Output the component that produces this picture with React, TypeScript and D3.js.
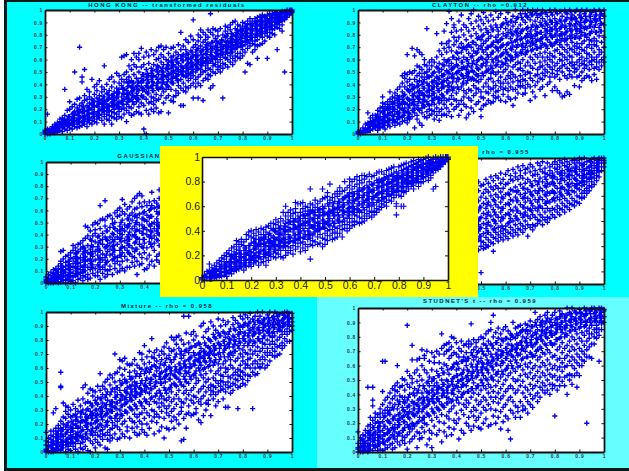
import React, { useEffect, useRef } from 'react';
import * as d3 from 'd3';

// every row is [x, y, y, y...] in hundredths (thinned out)
const hongKong = [
  [0,0,1,2,1,3],[1,0,2,4,1,16],[2,1,3,0,4,2],[3,2,4,1,6,3],[4,3,1,6,8,5],[5,2,5,9,4,7],[6,3,8,12,5,10],[7,5,2,9,13,7],
  [8,4,11,7,36,15,9],[9,6,12,3,10,19,8],[10,5,14,8,20,11,26],[11,7,16,4,12,22,9],[12,13,6,18,50,10,24,15],[13,8,21,11,5,16,28],
  [14,10,70,18,6,23,13,29],[15,46,42,9,20,14,25,17,7],[16,52,12,27,8,19,15,31],[17,10,23,14,6,28,18,36],[18,13,30,9,21,16,25,34],[19,44,11,24,17,8,28,20],
  [20,14,32,22,10,26,18,38],[21,40,12,29,16,23,9,35],[22,43,19,13,31,25,15,28],[23,11,27,20,34,16,38,24],[24,55,18,8,30,22,14,36,26],[25,21,33,12,27,16,40,24],
  [26,15,29,22,35,19,44,11],[27,8,25,38,18,31,14,46,23],[28,20,34,13,27,42,17,30,24],[29,23,37,16,49,29,12,33],[30,26,18,41,14,33,47,22,36],[31,20,30,39,13,44,25,62],
  [32,28,16,36,48,21,32,42,63],[33,10,24,35,19,44,30,50,64],[34,27,17,39,32,46,22,55,42],[35,21,34,15,43,28,52,38,60],[36,30,16,24,41,48,36,65,56],[37,26,38,18,45,33,54,29,62],
  [38,22,35,42,17,50,28,60,65],[39,16,31,45,25,38,54,69,41],[40,4,23,36,48,30,56,43,62],[41,0,28,39,19,52,34,46,66],[42,25,42,33,16,57,47,63,37],[43,30,20,49,38,53,26,68,44],
  [44,35,24,47,56,41,18,64,29],[45,21,39,52,32,60,46,67,27],[46,28,42,17,54,36,48,61,70],[47,18,31,45,38,58,51,64,71],[48,34,25,50,42,62,56,47,68],[49,29,40,53,36,46,60,70],
  [50,31,17,44,55,38,49,65,59],[51,27,36,48,42,58,53,69,62],[52,30,41,26,51,46,63,56,70],[53,35,45,31,54,49,60,66],[54,39,33,48,43,57,52,64,72],[55,23,82,37,50,44,61,55,68],
  [56,23,41,35,53,47,59,64,71],[57,38,46,34,55,50,62,68,76],[58,43,37,52,57,48,64,60,74],[59,39,45,54,49,61,67,58,79],[60,92,29,47,41,56,52,63,70,76],[61,38,44,55,50,60,66,72,64],
  [62,29,46,41,53,58,63,69,75,80],[63,39,48,52,60,56,66,71,78,84],[64,27,43,50,57,62,68,74,61,82],[65,45,55,51,59,65,70,76,80],[66,44,53,48,61,57,68,73,84,78],[67,37,52,47,59,64,71,66,82,97],
  [68,39,50,57,62,55,69,74,80,85],[69,49,56,61,66,71,60,77,84],[70,52,58,54,64,68,73,79,83],[71,55,50,62,67,60,74,70,85],[72,29,57,53,64,69,75,80,66],[73,56,61,66,71,78,62,83,87],
  [74,54,60,65,70,75,68,81,86],[75,58,63,68,73,77,71,84,88],[76,61,66,56,72,76,80,69,90],[77,63,68,59,74,79,71,85,91],[78,62,70,65,76,81,73,84,88],[79,65,71,61,78,74,83,87],
  [80,63,68,74,79,71,83,87,90],[81,50,66,72,77,81,75,85,89],[82,57,69,74,79,84,76,88,91],[83,56,71,76,81,73,85,89,93],[84,66,73,78,83,75,87,91],[85,68,75,80,78,85,89,93,72],
  [86,61,79,71,76,83,87,91,94],[87,72,79,84,81,88,92,95],[88,78,73,83,86,81,90,94,96],[89,75,81,85,88,83,91,95],[90,61,79,84,87,82,92,90,96],[91,78,86,82,89,93,97,91],
  [92,81,85,88,91,94,97,84],[93,80,87,90,85,93,96,98],[94,68,86,89,92,95,98,91],[95,85,90,93,96,88,98],[96,83,91,94,97,99,88],[97,50,92,95,98,93,99],[98,94,96,99,97,100],[99,96,98,100,99,97],[100,98,99,100,100]
];
const hongKongCore = [
  [1.5,2,1,3],[3.5,4,2,5],[5.5,6,3,8],[7.5,8,6,11],[9.5,7,11,9,14],[11.5,13,10,8,17],[13.5,12,15,9,19],[15.5,11,18,13,22],[17.5,16,21,12,19],[19.5,17,23,14,27],
  [21.5,22,18,26,15],[23.5,19,25,30,21],[25.5,28,23,19,32],[27.5,26,22,31,28],[29.5,25,34,30,21],[31.5,33,27,37,24],[33.5,29,38,33,26,41],[35.5,31,37,26,41,35],[37.5,36,42,31,39,28],[39.5,35,43,37,30,48],
  [41.5,44,38,33,49,41],[43.5,39,46,42,35,51],[45.5,44,37,50,41,55],[47.5,41,48,53,44,37],[49.5,47,42,52,56,39],[51.5,45,50,55,41,59],[53.5,47,52,58,43,61],[55.5,48,54,59,51,63],[57.5,53,47,60,56,65],[59.5,55,50,62,58,66],
  [61.5,57,53,63,59,68],[63.5,58,64,55,67,61],[65.5,62,58,68,64,72],[67.5,63,69,60,66,74],[69.5,65,70,63,75,68],[71.5,68,65,72,76,70],[73.5,69,74,66,72,79],[75.5,74,70,77,66,81],[77.5,75,72,79,82,70],[79.5,77,80,74,84,71],
  [81.5,78,82,86,75],[83.5,81,84,78,88],[85.5,83,87,80,90],[87.5,85,89,82,92],[89.5,87,90,93,85],[91.5,90,93,88,95],[93.5,92,94,97,90],[95.5,94,97,92],[97.5,96,98,95],[99.5,98,100,99]
];
const clayton = [
  [0,0,1,2],[1,0,1,2,3],[2,1,3,5,2],[3,2,5,4,8,1],[4,17,3,7,9,5],[5,3,6,10,8,13],[6,4,9,13,7,11,15],[7,5,11,15,8,13,6],[8,7,3,12,16,10,14,19],[9,5,14,18,9,11,21],
  [10,8,30,12,17,22,6,25],[11,4,14,20,10,24,16,9],[12,11,19,7,26,15,22,13],[13,6,17,28,12,24,20,34],[14,9,22,15,30,18,12,26],[15,10,25,7,33,20,16,29],[16,12,27,18,36,23,9,31,14],[17,8,21,30,13,38,25,17],
  [18,14,47,28,10,34,20,41,24],[19,11,45,17,32,25,49,38,21],[20,13,64,29,18,36,42,9,24,48],[21,16,27,50,34,12,44,39,23],[22,69,19,31,40,14,49,25,36],[23,5,26,63,17,44,33,38,51,21],
  [24,15,68,30,47,23,38,55,12,42],[25,9,66,28,35,49,19,43,54,31],[26,7,64,25,40,17,52,33,46,21],[27,27,37,14,56,44,22,49,31,60],[28,85,18,34,50,26,41,13,55,46],[29,23,39,15,52,31,46,58,35,20],
  [30,16,27,47,36,55,19,42,60,31,24],[31,12,33,50,24,43,58,38,29,18],[32,81,21,38,54,30,46,62,15,41],[33,11,25,44,35,57,18,67,50,29],[34,73,20,41,52,32,64,47,27,37,15],[35,83,16,29,48,38,60,24,55,69,43],
  [36,89,15,34,51,43,66,27,58,73,21],[37,99,28,41,60,36,49,70,18,55,75],[38,14,93,46,31,57,24,67,52,82,38],[39,86,20,37,62,45,72,54,28,78,88],[40,22,42,66,33,56,75,49,27,83,60],[41,15,36,51,70,44,61,24,78,91],
  [42,27,58,38,73,48,66,19,84,53,96],[43,30,45,62,80,35,70,54,24,88,41],[44,13,41,68,52,76,33,60,86,22,47],[45,16,36,57,72,46,83,29,65,93,50],[46,21,44,62,79,35,54,89,70,27,97],[47,18,39,59,74,50,85,31,67,44,100],
  [48,24,48,65,37,81,56,72,91,33,43],[49,26,42,60,78,52,87,36,69,95,47],[50,14,20,34,55,71,44,84,62,30,76,92],[51,23,47,66,38,80,57,89,29,73,98],[52,24,41,60,75,50,85,34,68,94,55],[53,33,52,70,27,62,82,44,91,38,77],
  [54,25,45,64,36,79,55,87,71,96,49],[55,31,58,42,74,26,66,84,50,92,37],[56,29,39,61,48,78,70,88,34,55,99],[57,35,50,67,43,83,59,74,94,30,80],[58,27,46,63,38,76,54,86,70,97,41],[59,32,56,41,72,65,89,50,81,36],
  [60,26,44,61,52,79,37,68,85,93,57],[61,35,55,47,73,64,88,41,82,98,30],[62,28,50,38,69,59,77,91,45,84,63],[63,23,42,60,54,80,71,95,36,87,48],[64,29,46,36,66,56,75,90,62,83,100],[65,33,52,43,72,63,85,39,79,94,58],
  [66,38,57,47,76,66,88,53,81,97,42],[67,32,44,60,51,73,84,92,68,100,39],[68,33,48,37,64,55,78,90,70,97,43],[69,40,58,50,75,67,86,94,81,100],[70,27,45,38,62,55,71,83,92,78,98,49],[71,34,53,43,68,60,77,88,96,73,100],
  [72,30,47,57,39,72,64,84,91,79,99],[73,42,52,62,48,76,69,86,94,81,100],[74,36,45,58,54,70,65,82,90,96,75],[75,44,38,55,49,73,62,87,78,93,100],[76,31,47,59,52,66,80,72,91,85,98],[77,40,50,62,56,76,69,88,83,95],
  [78,46,54,42,65,60,81,74,92,86,100],[79,35,49,58,52,71,63,84,78,96,90],[80,38,46,55,62,73,67,87,80,93,100],[81,35,48,57,51,68,76,89,83,97],[82,33,44,53,60,72,65,85,79,92,99],[83,30,50,59,55,70,64,81,88,95,77],
  [84,31,47,56,62,75,68,86,91,80,100],[85,34,45,53,60,72,66,83,94,77,97],[86,32,48,57,51,69,63,79,89,85,100],[87,46,55,62,58,74,68,84,92,80,96],[88,39,50,56,53,66,78,71,87,94,99],[89,46,58,52,64,73,69,85,91,81,100],
  [90,38,47,55,60,70,77,65,88,83,96],[91,43,50,57,62,73,68,82,93,87,100],[92,45,53,59,56,67,75,90,80,97,85],[93,47,55,61,70,65,85,78,92,100],[94,46,52,58,64,72,81,87,95,76],[95,43,56,62,59,69,83,75,90,98],
  [96,53,48,60,66,77,72,86,93,100],[97,44,54,62,58,71,82,91,96,75],[98,52,58,64,68,79,86,93,100],[99,55,60,66,74,83,89,97],[100,58,62,70,78,88,95,100]
];
const claytonCore = [
  [4.5,4,7,3],[6.5,6,10,8],[8.5,9,13,6,11],[10.5,10,14,19,7],[12.5,16,11,21,9],[14.5,14,20,25,11],[16.5,17,23,13,28],[18.5,19,26,15,31],[20.5,21,28,17,35,13],[22.5,24,31,19,37,28],
  [24.5,26,34,20,39,29],[26.5,28,37,23,42,32],[28.5,30,39,24,46,35],[30.5,33,42,27,49,38],[32.5,35,45,28,53,40],[34.5,38,47,31,56,42],[36.5,39,50,34,59,45],[38.5,42,53,35,62,48],[40.5,45,55,38,65,50],[42.5,47,58,41,69,53],
  [44.5,49,60,43,71,55],[46.5,51,63,45,74,57],[48.5,53,66,47,77,59],[50.5,55,68,49,79,61],[52.5,58,70,51,82,64],[54.5,60,72,53,84,66],[56.5,62,75,56,86,69],[58.5,64,77,58,88,71],[60.5,66,79,60,90,72],[62.5,68,81,62,91,74],
  [64.5,70,82,64,93,76],[66.5,71,83,65,94,77],[68.5,73,85,66,95,79],[70.5,74,86,67,96,80],[72.5,75,87,69,97,81],[74.5,77,88,70,97,82],[76.5,78,89,71,98,83],[78.5,79,90,72,98,84],[80.5,80,90,74,99,85],[82.5,81,91,75,99,86],
  [84.5,82,92,76,98,87],[86.5,83,93,77,99,88],[88.5,84,93,78,99,89],[90.5,85,94,79,99,90],[92.5,86,95,80,99,91],[94.5,87,95,81,99,91],[96.5,88,96,82,99,92],[98.5,89,96,83,99,93]
];
const gaussian = [
  [0,0,2,3,1,5],[1,0,1,4,2,7],[2,1,3,6,0,9,4],[3,0,2,5,8,3,11],[4,2,6,10,1,4,12,8],[5,3,7,0,11,14,5,9],[6,1,4,9,16,12,6,26,18],[7,2,8,5,13,20,10,27],[8,0,6,11,3,17,14,22,9],[9,4,12,7,18,2,23,15],
  [10,1,9,14,6,21,11,25,3],[11,5,16,8,27,13,20,2,31],[12,0,10,18,6,24,14,29,22],[13,3,12,7,20,16,32,26,9],[14,4,21,11,28,17,33,8,14],[15,2,9,24,13,19,35,30,6],[16,5,15,47,22,10,27,37,18],[17,7,13,46,25,19,31,39,3],
  [18,4,20,11,28,16,36,43,24],[19,8,15,30,22,39,48,12,26],[20,6,19,34,12,26,44,41,50],[21,9,23,15,30,38,49,6,28],[22,64,3,17,27,11,35,45,21,52],[23,13,8,32,24,41,53,19,36],[24,68,5,21,29,15,47,38,11,52],[25,10,26,18,35,43,55,31,7],
  [26,14,33,23,46,38,56,11,28],[27,7,19,41,30,53,36,49,24],[28,16,12,36,27,58,45,22,50],[29,21,9,32,43,55,18,38,60],[30,15,27,10,47,36,56,23,62,41],[31,69,18,30,40,12,52,25,59,45],[32,10,35,22,48,29,57,43,65],[33,19,27,38,13,53,46,61,33],
  [34,13,24,42,31,56,49,63,36],[35,17,29,39,22,52,45,67,58],[36,21,33,14,47,40,61,26,55,70],[37,7,28,37,18,50,44,72,62,54],[38,74,15,32,24,43,57,66,36,48],[39,16,30,21,41,53,63,48,72],[40,11,36,25,46,59,67,33,52],[41,12,20,29,40,51,64,56,44],
  [42,15,34,23,48,38,60,67,54],[43,75,18,30,42,55,37,64,49],[44,14,27,39,50,33,62,45,68],[45,22,36,19,53,43,59,66,48],[46,77,17,31,40,58,47,63,70,24]
];
const gaussianCore = [
  [3.5,4,7,2],[6.5,7,11,3,14],[9.5,9,14,5,18],[12.5,12,17,7,21,25],[15.5,15,21,10,26,29],[18.5,18,24,13,31,35],[21.5,20,27,14,33,39],[24.5,23,30,17,36,43],[27.5,27,34,20,40,46,31],[30.5,29,37,22,44,50,34],
  [33.5,31,40,25,47,53,36],[36.5,34,43,28,50,56,38],[39.5,36,45,29,53,58,41],[42.5,39,47,32,55,61,43],[45.5,41,50,35,57,63,45]
];
const fourth = [
  [49,27,35,42,50,58,66,74,81,47],[50,30,38,45,53,61,69,78,34,9],[51,28,33,40,48,56,64,72,79],[52,31,37,44,52,60,68,75,83,29],[53,35,30,41,49,57,65,73,80],[54,33,39,46,54,62,70,77,85],
  [55,32,37,43,51,59,67,75,82,26],[56,36,41,48,55,63,71,78,86],[57,34,39,45,53,61,69,76,84],[58,37,42,50,57,65,73,80,88],[59,35,44,40,52,60,68,76,83],[60,38,46,43,55,63,71,79,87],
  [61,36,41,48,56,64,72,80,90],[62,40,45,52,59,67,75,83,86],[63,38,43,50,58,66,74,82,91],[64,41,47,54,61,69,77,85,88],[65,39,44,51,58,66,74,83,93],[66,43,48,56,63,71,79,86,90],
  [67,41,46,53,61,68,76,84,94],[68,44,50,57,65,72,80,88,91],[69,38,47,54,60,68,75,83,92],[70,45,52,59,66,73,81,89,95],[71,47,43,55,62,70,78,86,93],[72,46,53,60,67,74,82,90,87],
  [73,48,51,58,65,72,79,87,96],[74,50,55,62,69,76,84,91,94],[75,47,53,60,67,74,81,89,97],[76,51,57,64,71,78,85,92,88],[77,53,49,60,66,73,80,87,96],[78,52,58,65,72,79,86,93,90],
  [79,55,60,67,74,81,88,95,84],[80,53,59,66,72,78,85,92,97],[81,57,62,69,76,83,89,95,91],[82,55,60,67,73,80,87,93,98],[83,59,64,70,77,84,90,96,86],[84,57,62,68,75,82,88,94,99],
  [85,61,66,72,79,85,91,97,93],[86,59,64,71,77,83,89,95,87],[87,63,68,74,80,86,92,98,90],[88,62,66,73,78,84,90,96,99],[89,65,70,76,82,87,93,98,79],[90,64,69,75,80,86,91,96,100],
  [91,68,72,78,84,89,94,99,81],[92,69,74,79,85,90,95,100,87],[93,72,76,81,87,92,97,84],[94,74,78,83,88,93,98,90],[95,77,81,85,90,94,99,87],[96,79,84,88,92,96,100],
  [97,82,86,90,94,98,92],[98,85,89,93,96,100],[99,90,93,96,98,100],[100,93,96,98,100]
];
const fourthCore = [
  [49.5,44,52,38,61],[52.5,47,55,41,63],[55.5,50,57,44,66],[58.5,53,60,46,69],[61.5,55,63,49,71],[64.5,58,66,52,73],[67.5,61,69,55,76],[70.5,64,71,58,78],[73.5,67,74,61,81],[76.5,70,77,64,83],
  [79.5,73,80,68,85],[82.5,76,83,71,88],[85.5,79,86,74,91],[88.5,83,89,78,93],[91.5,86,91,82,95],[94.5,89,94,85,97],[97.5,93,96,90,99]
];
const mixture = [
  [0,0,2,5,8,1,14],[1,0,3,7,10,4,1],[2,1,5,9,12,3,15,0],[3,0,6,11,28,15,2,8],[4,3,8,13,31,5,17,1],[5,2,7,11,15,19,4,9],[6,47,46,57,1,9,13,22,5,17],[7,3,11,16,20,7,35,25],
  [8,0,8,13,18,24,33,5,29],[9,4,10,16,21,7,27,32,2],[10,1,12,18,25,6,14,30,9],[11,7,15,20,4,26,34,11,17],[12,2,10,19,27,13,23,31,6],[13,0,14,8,22,17,29,37,11],[14,3,12,25,18,33,6,28,21],[15,7,16,22,30,11,38,46,2],
  [16,4,19,13,27,35,48,23,9],[17,10,1,24,31,16,42,20,36],[18,0,13,29,20,35,8,45,26],[19,6,17,24,33,12,40,28,44],[20,3,21,14,30,37,9,43,26],[21,7,18,27,34,47,23,12,39],[22,56,11,20,31,38,15,44,27,5],[23,9,23,16,35,29,41,47,13],
  [24,3,18,26,33,12,39,50,45],[25,2,14,28,22,37,43,52,19,9],[26,16,8,25,34,30,48,41,55,12],[27,10,21,36,29,45,17,53,33],[28,70,13,24,39,32,50,19,56,43],[29,9,27,18,35,46,41,57,22],[30,16,10,30,24,37,51,44,60,66],[31,13,26,20,40,33,49,55,65],
  [32,11,22,34,29,44,38,59,52,67],[33,15,28,18,42,36,50,63,46],[34,10,24,32,47,39,57,62,54],[35,17,30,22,43,37,53,63,48],[36,21,14,34,27,45,40,58,50,66],[37,18,12,31,25,49,42,56,62],[38,13,27,36,22,46,54,41,60,71],[39,20,16,33,43,28,51,59,66,70],
  [40,14,24,38,31,48,44,56,63,76],[41,12,28,20,36,53,46,60,68],[42,26,17,34,42,57,49,64,72],[43,81,22,30,39,52,45,61,68],[44,13,29,36,25,47,55,62,71,67],[45,21,35,27,42,50,58,65,73],[46,25,15,32,44,38,54,60,69],[47,18,29,40,35,49,57,66,72],
  [48,10,24,38,33,46,53,62,70,75],[49,31,17,28,42,37,55,59,67,78],[50,16,33,26,45,39,52,61,69,74],[51,22,36,29,48,43,58,64,72,82],[52,17,31,38,25,49,55,66,73,80],[53,23,34,41,47,59,53,70,77,82],[54,20,27,38,44,52,63,57,74,83],[55,8,32,36,29,48,60,67,80,72],
  [56,97,9,24,35,42,54,47,69,63,77],[57,17,27,38,50,44,61,56,73,85],[58,97,28,33,41,49,57,66,78,71],[59,26,37,44,52,61,68,75,84],[60,27,35,46,40,55,63,71,80,86],[61,28,39,31,49,58,53,66,76,83],[62,23,36,43,51,60,70,65,78],[63,21,34,45,38,55,62,74,68,90],
  [64,26,40,47,53,59,67,72,82,92],[65,35,30,43,50,56,64,76,70,86],[66,34,37,46,52,61,69,75,81,88],[67,26,41,48,44,58,65,72,79,93],[68,38,43,53,47,62,70,76,84,90],[69,33,46,41,56,51,66,74,81,87],[70,43,36,49,58,63,70,78,85,95],[71,44,51,47,60,55,68,76,83,90],
  [72,38,45,54,50,63,71,79,86,94],[73,32,48,43,57,65,60,74,82,91],[74,32,50,46,59,54,68,77,84,93],[75,47,53,42,62,71,66,80,88],[76,44,55,49,60,69,75,83,91,96],[77,48,57,52,65,72,79,87,94],[78,31,51,46,59,55,67,76,84,92],[79,47,54,62,58,70,78,86,90,97],
  [80,49,57,52,65,73,68,81,89,95],[81,48,60,55,63,71,79,85,92,98],[82,55,51,62,70,66,76,83,90,96],[83,54,60,67,73,80,87,93,99],[84,31,57,63,70,76,83,89,95],[85,55,60,65,72,78,85,91,97],[86,56,63,69,75,81,88,94,100],[87,60,66,61,72,79,85,92,97],
  [88,63,68,74,81,87,93,100,78],[89,60,66,71,77,83,90,95],[90,62,69,74,80,86,92,98,71],[91,65,71,77,83,88,94,100],[92,69,74,79,85,91,96,82],[93,68,72,77,83,89,95,100],[94,69,75,80,86,92,97,99],[95,70,76,82,87,93,98,90],
  [96,74,78,84,89,94,99,86],[97,76,81,86,91,96,100],[98,79,84,88,93,97,100,91],[99,79,86,90,95,99,93],[100,87,90,93,96,99,96]
];
const mixtureCore = [
  [2.5,3,7,1],[4.5,6,10,2,13],[6.5,7,12,3,16],[8.5,9,14,5,19],[10.5,11,17,7,22],[12.5,13,19,9,25],[14.5,15,22,10,28],[16.5,18,25,13,30,21],[18.5,20,27,15,33,24],[20.5,22,30,17,35,26],
  [22.5,25,32,19,38,29],[24.5,27,34,21,41,31],[26.5,29,36,24,43,33],[28.5,31,39,26,46,35],[30.5,33,41,27,48,37],[32.5,35,43,29,50,39],[34.5,37,45,31,52,41],[36.5,39,47,33,54,43],[38.5,41,49,35,56,45],[40.5,43,51,36,58,47],
  [42.5,45,52,38,59,49],[44.5,47,54,40,61,50],[46.5,49,56,42,63,52],[48.5,50,58,44,64,54],[50.5,52,60,46,66,56],[52.5,54,61,48,68,58],[54.5,56,63,50,70,59],[56.5,58,65,52,72,61],[58.5,60,67,54,74,63],[60.5,62,69,56,76,65],
  [62.5,64,71,58,77,67],[64.5,65,72,60,78,69],[66.5,67,74,62,80,71],[68.5,69,76,64,82,73],[70.5,71,77,66,83,74],[72.5,73,79,68,85,76],[74.5,75,81,70,86,78],[76.5,77,82,72,88,80],[78.5,79,84,74,89,81],[80.5,81,85,76,91,83],
  [82.5,83,87,78,92,85],[84.5,84,88,79,93,86],[86.5,85,89,81,94,87],[88.5,87,91,83,95,89],[90.5,88,92,85,96,90],[92.5,89,93,86,97,91],[94.5,91,94,88,98],[96.5,92,95,90,98],[98.5,93,96,91,99]
];
const student = [
  [0,0,3,2,6,14],[1,0,4,2,8,10,1],[2,1,5,0,9,12,3,6],[3,2,6,11,1,4,15],[4,0,8,13,3,45,18,6],[5,2,9,15,5,12,24,19],[6,1,7,45,36,11,17,22,32],[7,3,10,5,14,20,27,24],[8,4,12,8,17,21,26,1],[9,2,14,6,18,24,11,30,27],
  [10,63,42,7,1,15,21,9,27,33],[11,63,5,12,18,25,2,29,36],[12,8,3,16,22,13,31,38,27],[13,10,20,5,26,15,34,29,41],[14,6,17,2,23,12,31,37,44],[15,9,14,25,19,33,3,39,46,43],[16,60,11,22,30,7,17,42,36,48],[17,5,19,13,27,35,23,45,39],
  [18,8,15,31,24,38,11,46,51],[19,10,21,17,34,28,43,6,50,38],[20,88,12,26,2,19,36,31,47,56],[21,14,23,7,32,40,18,53,28,45],[22,74,16,9,27,35,20,48,64,51],[23,11,30,18,39,25,44,55,34],[24,64,3,20,14,33,27,49,41,57],[25,13,24,9,37,30,46,53,65],
  [26,17,10,28,41,34,50,60,22,71],[27,20,14,36,24,44,57,31,65,67],[28,5,19,32,38,48,27,55,70,42],[29,15,25,9,35,46,41,52,63],[30,3,22,13,30,43,37,57,49,69],[31,18,27,40,34,51,46,62,66],[32,24,12,37,31,48,43,56,70],[33,15,29,35,45,21,53,62,68],
  [34,82,7,26,39,33,50,44,58,72],[35,20,14,31,41,47,55,68,61,74],[36,11,25,34,43,50,60,38,75,70],[37,17,28,23,46,37,54,65,71,76],[38,12,30,41,35,49,58,67,80,73],[39,22,32,16,44,52,40,61,69,79],[40,20,27,36,46,53,62,57,76,68],[41,9,23,34,42,49,58,66,72],
  [42,15,29,38,45,54,50,63,70,77],[43,13,26,33,41,57,47,66,74,64],[44,20,31,36,46,52,60,69,63,75],[45,18,24,34,42,50,56,65,73,77],[46,89,15,28,38,44,53,61,69,75],[47,18,31,25,41,48,56,64,71,78],[48,22,29,36,44,52,59,66,76,73],[49,24,17,33,46,40,55,63,70,78],
  [50,16,27,35,43,50,57,65,72,80],[51,20,31,38,46,53,61,68,75,79],[52,23,29,36,44,51,58,67,74,82],[53,18,33,41,47,55,62,70,77,84],[54,90,19,30,38,45,52,60,68,75,85],[55,95,25,35,42,50,57,64,72,80],[56,20,29,38,46,54,61,68,76,83],[57,24,34,41,49,56,65,71,79,86],
  [58,16,28,37,44,52,60,67,74,82],[59,21,31,39,47,54,62,69,77,85],[60,25,33,42,50,57,65,72,79,87],[61,15,23,36,44,53,60,68,75,84],[62,9,29,38,46,55,63,70,78,82],[63,27,35,44,51,58,66,73,80,90],[64,24,32,41,49,56,64,71,79,86],[65,31,28,43,50,59,67,74,81,87],
  [66,24,35,46,53,60,68,76,83,88],[67,32,29,41,49,57,65,72,80,85],[68,30,38,45,54,61,70,77,84,89],[69,27,35,43,52,59,66,74,82,88],[70,33,40,47,55,62,69,76,84,91],[71,37,31,44,51,58,66,73,81,87],[72,39,46,53,60,67,75,83,90,97],[73,41,35,49,56,64,71,78,85,92],
  [74,38,45,52,59,66,73,80,88,94],[75,43,48,55,62,69,77,84,91,87],[76,41,46,53,60,68,75,82,89,95],[77,43,50,57,64,71,79,86,93,97],[78,40,47,54,61,69,76,83,90],[79,47,44,52,58,66,74,81,88,95],[80,25,46,53,60,67,75,82,90,97],[81,43,50,57,64,71,78,85,92,89],
  [82,46,52,59,65,73,79,87,94,98],[83,49,56,62,69,76,83,90,96],[84,46,52,59,65,72,80,86,93],[85,40,53,60,67,74,81,88,95,100],[86,50,54,63,70,77,84,91,97],[87,53,47,60,66,73,80,87,94,100],[88,53,58,64,71,78,85,92,98],[89,45,55,62,68,75,82,89,96],
  [90,53,60,66,72,79,86,93,99],[91,60,64,70,77,83,90,96],[92,63,68,74,81,87,94,100],[93,20,66,71,77,84,90,96,99],[94,66,73,79,86,92,98,82],[95,65,75,82,88,93,99,100],[96,75,80,85,91,96,100],[97,79,83,88,93,98,86],
  [98,63,81,85,90,95,100],[99,85,89,93,97,100,91],[100,90,94,98,99]
];
const studentCore = [
  [2.5,4,7,1],[4.5,5,10,2,14],[6.5,8,13,4,17],[8.5,10,15,6,20],[10.5,12,18,7,24],[12.5,14,21,9,27],[14.5,16,23,11,30],[16.5,19,26,13,33,22],[18.5,21,29,15,35,25],[20.5,24,32,17,38,27],
  [22.5,26,34,19,41,30],[24.5,28,36,21,43,32],[26.5,30,38,24,46,34],[28.5,33,41,26,49,36],[30.5,35,43,28,51,39],[32.5,37,45,30,53,41],[34.5,39,47,32,55,43],[36.5,41,49,34,57,45],[38.5,43,51,36,59,47],[40.5,45,53,38,61,49],
  [42.5,47,55,40,63,51],[44.5,49,57,42,65,53],[46.5,51,59,44,67,55],[48.5,53,61,46,69,57],[50.5,55,62,48,70,59],[52.5,57,64,50,72,61],[54.5,59,66,52,74,63],[56.5,61,68,54,76,65],[58.5,63,70,56,78,67],[60.5,65,72,58,79,69],
  [62.5,67,74,60,81,71],[64.5,69,75,62,82,72],[66.5,71,77,64,84,74],[68.5,73,79,66,85,76],[70.5,74,80,68,87,78],[72.5,76,82,70,88,79],[74.5,78,84,72,90,81],[76.5,80,85,74,91,83],[78.5,81,87,76,92,84],[80.5,83,88,78,93,86],
  [82.5,85,90,80,94,87],[84.5,86,91,82,95,88],[86.5,88,92,84,96,90],[88.5,89,93,85,97,91],[90.5,90,94,87,97,92],[92.5,91,95,88,98],[94.5,93,96,90,98],[96.5,94,97,91,99],[98.5,95,98,93,99]
];
const inset = [
  [0,0,1,2,1],[1,0,1,3,2,4],[2,1,3,5,2,7],[3,2,5,1,8,13,6],[4,1,4,7,10,3,6],[5,3,6,9,5,12,2],[6,2,8,11,4,14,7],[7,5,9,3,13,16,7],[8,3,10,6,15,12,18],[9,6,12,4,17,9,20],
  [10,5,14,8,19,11,22,3],[11,8,15,6,21,12,24],[12,9,17,5,20,13,26],[13,7,14,23,10,18,27],[14,11,19,8,25,15,29,32],[15,9,16,22,12,27,31],[16,10,21,14,18,29,33],[17,13,8,24,19,31,28],[18,11,17,26,22,33,37,14],[19,14,20,12,28,36,24,39],
  [20,11,16,23,30,19,35,40],[21,13,25,18,31,38,22,34],[22,15,28,20,36,25,33,41],[23,18,12,27,33,22,39,30],[24,17,23,32,14,37,27,42],[25,19,29,15,34,24,41,37],[26,12,22,35,28,39,18,43],[27,16,31,25,37,20,44,33],[28,21,30,19,36,42,26,46],[29,19,28,35,23,41,46,31],
  [30,18,25,33,39,29,45,22,49],[31,21,35,28,42,47,24,38],[32,24,31,38,19,44,50,27],[33,18,26,36,41,30,48,55,34],[34,20,28,40,33,46,60,24,52],[35,22,30,37,43,49,27,55],[36,24,34,41,47,26,52,57],[37,21,31,39,45,28,54,50],[38,25,36,43,63,30,49,58,55],[39,27,33,41,47,52,62,37],
  [40,23,30,38,45,50,55,62,35],[41,26,34,42,48,53,58,31,63],[42,24,37,44,29,50,56,60],[43,27,33,40,47,53,59,36],[44,17,74,29,38,45,51,57,62,34],[45,28,36,43,49,56,61,32],[46,31,39,47,53,59,42,65],[47,29,35,44,50,57,62,40],[48,30,37,46,52,58,64,42],[49,27,74,34,43,49,55,60,66],
  [50,29,38,46,54,60,33,42,67],[51,32,40,47,53,62,68,36,71],[52,36,78,44,50,56,63,41,65],[53,33,41,48,54,60,67,38],[54,34,39,46,52,58,64,70,43],[55,35,42,49,55,62,68,72,38],[56,38,44,51,57,63,70,48,75],[57,41,35,47,53,60,66,72],[58,42,48,55,61,67,73,45,80],[59,45,50,56,63,69,75,40],
  [60,42,47,53,59,65,71,77,50,82],[61,44,50,56,62,68,74,80,47],[62,48,53,58,64,70,76,45,82],[63,47,52,60,66,72,78,55,84],[64,46,51,56,62,69,75,81],[65,50,55,61,67,73,79,47,85],[66,52,57,63,69,75,82,48,85],[67,54,59,65,71,77,50,84],[68,52,56,62,68,74,80,86],[69,55,60,66,72,78,84,51],
  [70,56,61,67,73,79,85,53],[71,58,63,69,75,81,87,55],[72,60,65,71,76,82,88,57],[73,59,64,70,75,80,88,62],[74,61,66,72,77,83,64,86],[75,63,68,73,78,84,89,60],[76,65,70,74,79,85,90,68],[77,64,69,75,80,86,91,72],[78,67,71,76,81,87,92,74],[79,53,62,69,73,78,83,88,60],
  [80,69,72,77,82,87,92,75],[81,60,72,75,79,84,89,93,68],[82,60,71,76,80,85,90,94,73],[83,72,78,82,86,91,75,95],[84,74,79,83,87,92,76,88],[85,76,80,84,88,93,96,78],[86,77,81,85,89,94,97,74],[87,79,83,87,91,95,81],[88,80,84,88,92,96,98,76],[89,82,85,89,93,97,79],
  [90,83,86,90,94,98,80],[91,84,88,92,95,99,86],[92,81,86,90,93,97,100],[93,83,88,91,95,98,85],[94,74,87,90,93,96,99],[95,76,89,92,95,98,100],[96,90,93,96,99,92],[97,92,95,97,100,94],[98,95,97,99,100],[99,96,98,100,99],[100,98,99,100,100]
];
const insetCore = [
  [3.5,3,6,1],[5.5,5,8,3],[7.5,7,11,4],[9.5,10,13,7],[11.5,11,15,8,19],[13.5,13,17,10,21],[15.5,14,19,11,24],[17.5,16,21,12,26],[19.5,17,23,14,28],[21.5,20,26,16,30],
  [23.5,23,29,19,33],[25.5,25,30,21,35],[27.5,27,32,23,38],[29.5,29,34,25,40],[31.5,32,37,27,42],[33.5,33,39,28,44],[35.5,35,41,31,47],[37.5,36,42,32,48],[39.5,39,44,34,50],[41.5,40,46,35,52],
  [43.5,42,48,37,54],[45.5,44,50,39,55],[47.5,46,52,41,57],[49.5,48,53,43,58],[51.5,50,55,45,60],[53.5,52,57,46,62],[55.5,53,59,48,64],[57.5,56,61,51,66],[59.5,58,63,53,68],[61.5,60,65,55,70],
  [63.5,62,67,57,72],[65.5,64,69,59,74],[67.5,66,71,61,75],[69.5,68,73,63,77],[71.5,70,75,65,79],[73.5,72,77,67,81],[75.5,74,78,70,82],[77.5,76,80,72,84],[79.5,77,82,73,85],[81.5,79,83,76,87],
  [83.5,81,85,78,88],[85.5,83,87,80,90],[87.5,85,89,82,92],[89.5,87,91,84,94],[91.5,89,92,87,95],[93.5,91,94,89,96],[95.5,93,96,91,98],[97.5,96,98,94],[99.5,99,98,100]
];
const TICKS = [0, 0.1, 0.2, 0.3, 0.4, 0.5, 0.6, 0.7, 0.8, 0.9, 1];
const INSET_Y_TICKS = [0, 0.2, 0.4, 0.6, 0.8, 1];

const panels = [
  { rows: [...hongKong, ...hongKongCore], box: [45, 10, 292, 134], title: 'HONG KONG -- transformed residuals', titleX: 167, titleY: 7 },
  { rows: [...clayton, ...claytonCore], box: [358, 10, 604, 134], title: 'CLAYTON -- rho =0.912', titleX: 480, titleY: 7 },
  // the two middle panels are partly behind the yellow inset, so hidden labels stay out
  { rows: [...gaussian, ...gaussianCore], box: [46, 162, 292, 283], title: 'GAUSSIAN', titleX: 139, titleY: 158, xFrom: 0, xTo: 0.45 },
  { rows: [...fourth, ...fourthCore], box: [358, 158, 604, 284], title: '-- rho = 0.955', titleX: 501, titleY: 154, xFrom: 0.5, xTo: 1, noYLabels: true },
  { rows: [...mixture, ...mixtureCore], box: [46, 312, 292, 452], title: 'Mixture -- rho = 0.958', titleX: 167, titleY: 308 },
  { rows: [...student, ...studentCore], box: [358, 308, 604, 452], title: "STUDNET'S t -- rho = 0.959", titleX: 480, titleY: 303 },
];

function drawPlot(svg, rows, box, opts) {
  const [x0, y0, x1, y1] = box;
  const x = d3.scaleLinear().domain([0, 1]).range([x0, x1]);
  const y = d3.scaleLinear().domain([0, 1]).range([y1, y0]);
  const label = d3.format('~g');
  const { xFrom = 0, xTo = 1, noYLabels = false } = opts;
  const g = svg.append('g');

  g.append('rect').attr('x', x0).attr('y', y0).attr('width', x1 - x0).attr('height', y1 - y0).attr('fill', '#fff');

  const p = d3.path();
  rows.forEach(([px, ...ys]) => {
    ys.forEach(py => {
      const cx = x(px / 100), cy = y(py / 100);
      p.moveTo(cx - opts.mark, cy); p.lineTo(cx + opts.mark, cy);
      p.moveTo(cx, cy - opts.mark); p.lineTo(cx, cy + opts.mark);
    });
  });
  g.append('path').attr('d', p.toString()).attr('fill', 'none').attr('stroke', '#0000f0')
    .attr('stroke-width', opts.markWidth).attr('filter', 'url(#soft)');

  const axes = [
    [d3.axisBottom(x).tickValues(TICKS).tickFormat(d => (d >= xFrom && d <= xTo ? label(d) : '')), `translate(0,${y1})`],
    [d3.axisLeft(y).tickValues(opts.yTicks).tickFormat(d => (noYLabels ? '' : label(d))), `translate(${x0},0)`],
    [d3.axisTop(x).tickValues(TICKS).tickFormat(''), `translate(0,${y0})`],
    [d3.axisRight(y).tickValues(opts.yTicks).tickFormat(''), `translate(${x1},0)`],
  ];
  axes.forEach(([axis, transform]) => {
    const a = g.append('g').attr('transform', transform)
      .call(axis.tickSizeInner(-opts.tick).tickSizeOuter(0).tickPadding(opts.pad));
    a.selectAll('.domain').attr('stroke', '#111').attr('stroke-width', opts.frame);
    a.selectAll('.tick line').attr('stroke', '#111').attr('stroke-width', 1);
    a.selectAll('text')
      .attr('fill', opts.tickColor)
      .style('font-family', '"Liberation Sans", Arial, sans-serif')
      .style('font-size', opts.font + 'px')
      .style('font-weight', opts.weight)
      .style('letter-spacing', opts.spacing + 'px');
  });
}

export default function App() {
  const ref = useRef(null);

  useEffect(() => {
    const svg = d3.select(ref.current);
    svg.selectAll('*').remove();

    // the reference is a soft, low resolution picture
    svg.append('filter').attr('id', 'soft').append('feGaussianBlur').attr('stdDeviation', 0.3);

    svg.append('rect').attr('x', 4).attr('y', 0).attr('width', 625).attr('height', 471).attr('fill', '#0a1a1a');
    svg.append('rect').attr('x', 7).attr('y', 2).attr('width', 622).attr('height', 466).attr('fill', '#00ffff');
    svg.append('rect').attr('x', 317).attr('y', 297).attr('width', 312).attr('height', 171).attr('fill', '#66ffff');

    panels.forEach(({ rows, box, title, titleX, titleY, xFrom, xTo, noYLabels }) => {
      drawPlot(svg, rows, box, { mark: 2.6, markWidth: 1.35, tick: 2.5, pad: 2, font: 5, weight: 700, spacing: 0.7, frame: 1.8, yTicks: TICKS, tickColor: '#334', xFrom, xTo, noYLabels });
      svg.append('text').attr('x', titleX).attr('y', titleY).attr('text-anchor', 'middle')
        .attr('fill', '#123')
        .style('font-family', '"Liberation Sans", Arial, sans-serif')
        .style('font-size', '6px').style('font-weight', 700).style('letter-spacing', '1.45px')
        .text(title);
    });

    svg.append('rect').attr('x', 160).attr('y', 146).attr('width', 318).attr('height', 151).attr('fill', '#ffff00');
    drawPlot(svg, [...inset, ...insetCore], [202, 157, 448, 280], { mark: 3, markWidth: 1.15, tick: 3, pad: 2, font: 10.5, weight: 400, spacing: 0, frame: 1.6, yTicks: INSET_Y_TICKS, tickColor: '#222' });
  }, []);

  return <svg ref={ref} width={629} height={471} style={{ position: 'absolute', left: 0, top: 0, background: '#fff' }} />;
}
